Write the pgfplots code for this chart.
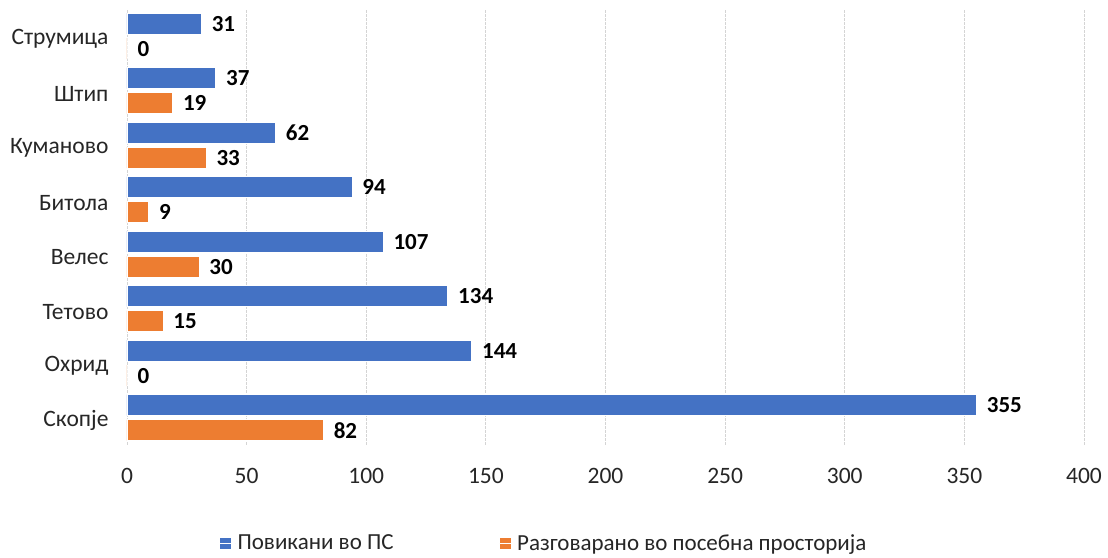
\documentclass[border=0pt]{standalone}
\usepackage{pgfplots}
\pgfplotsset{compat=1.18}
\usepackage{fontspec}
\setmainfont{Carlito}
\definecolor{cblue}{HTML}{4472C4}
\definecolor{corange}{HTML}{ED7D31}
\definecolor{cgrid}{HTML}{D4D4D4}
\begin{document}
\begin{tikzpicture}
\begin{axis}[
  name=ax,
  scale only axis,
  width=957pt, height=436pt,
  xmin=0, xmax=400,
  ymin=-0.5, ymax=7.5,
  xtick={0,50,...,400},
  ytick={0,...,7},
  yticklabels={Скопје,Охрид,Тетово,Велес,Битола\ ,Куманово,Штип,Струмица},
  /pgf/number format/assume math mode=true,
  tick label style={font=\fontsize{23.5}{28}\selectfont, text=black!85},
  xticklabel style={yshift=-20pt},
  yticklabel style={xshift=-15pt, yshift=-3pt},
  major tick length=0pt,
  axis line style={draw=none},
  xmajorgrids,
  grid style={cgrid, dash pattern=on 2.5pt off 1.5pt, line width=0.9pt},
  xbar,
  bar width=21pt,
  nodes near coords,
  every node near coord/.append style={anchor=west, xshift=7pt, font=\bfseries\fontsize{23}{27}\selectfont, text=black},
  legend style={at={(0.436,-0.225)}, anchor=center, draw=none, legend columns=2,
    font=\fontsize{23}{27}\selectfont, text=black!85,
    /tikz/every even column/.append style={column sep=104pt}},
  legend image code/.code={\fill[#1, draw=none] (0pt,-5.5pt) rectangle (11pt,5.5pt); \path (0pt,0pt) -- (15pt,0pt);},
]
\addplot[fill=cblue, draw=white, line width=0.5pt, bar shift=12.5pt] coordinates {
  (355,0) (144,1) (134,2) (107,3) (94,4) (62,5) (37,6) (31,7)};
\addplot[fill=corange, draw=white, line width=0.5pt, bar shift=-12.5pt] coordinates {
  (82,0) (0,1) (15,2) (30,3) (9,4) (33,5) (19,6) (0,7)};
\legend{Повикани во ПС, Разговарано во посебна просторија}
\end{axis}
\pgfresetboundingbox
\path[use as bounding box] ([xshift=-127pt,yshift=-113pt]ax.south west) rectangle ([xshift=24pt,yshift=9pt]ax.north east);
\end{tikzpicture}
\end{document}
